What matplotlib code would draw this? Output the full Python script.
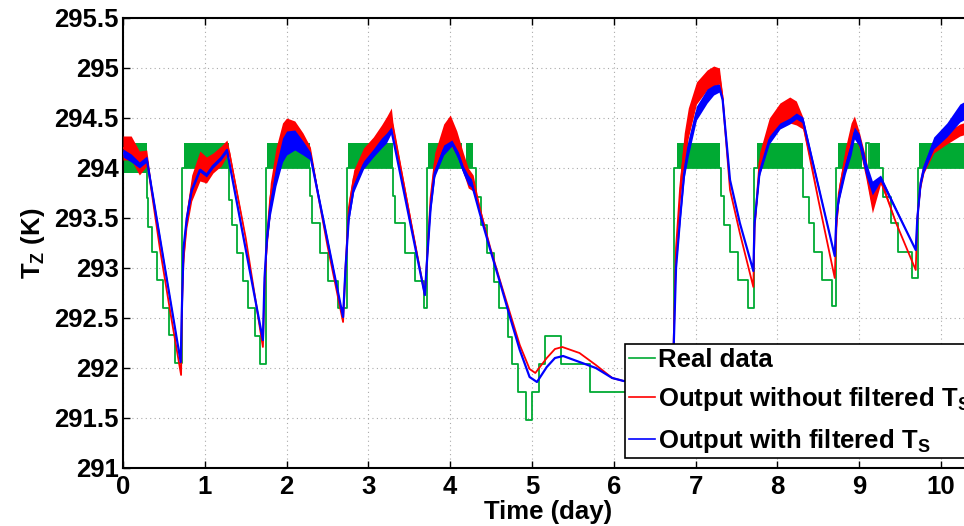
import matplotlib
matplotlib.use("Agg")
import matplotlib.pyplot as plt
import numpy as np

plt.rcParams['font.family'] = ['Liberation Sans', 'DejaVu Sans']
plt.rcParams['font.weight'] = 'bold'
plt.rcParams['mathtext.fontset'] = 'custom'
plt.rcParams['mathtext.rm'] = 'Liberation Sans:bold'
plt.rcParams['mathtext.it'] = 'Liberation Sans:bold'
plt.rcParams['mathtext.bf'] = 'Liberation Sans:bold'

# real data (step signal)
green_t = [0.00, 0.29, 0.31, 0.35, 0.41, 0.485, 0.566, 0.636, 0.717,
           1.29, 1.33, 1.39, 1.47, 1.53, 1.61, 1.67, 1.745,
           2.29, 2.31, 2.41, 2.51, 2.63, 2.735,
           3.30, 3.33, 3.45, 3.57, 3.68, 3.71,
           4.32, 4.37, 4.45, 4.53, 4.60, 4.71, 4.75, 4.83, 4.93, 5.00, 5.08, 5.16, 5.36, 5.71, 6.73,
           7.31, 7.35, 7.42, 7.52, 7.64, 7.715,
           8.31, 8.39, 8.45, 8.55, 8.67, 8.715,
           9.08, 9.12, 9.29, 9.39, 9.47, 9.64, 9.715, 10.39]
green_v = [294.0, 293.7, 293.41, 293.16, 292.88, 292.6, 292.33, 292.05, 294.0,
           293.68, 293.43, 293.15, 292.87, 292.6, 292.32, 292.04, 294.0,
           293.72, 293.45, 293.15, 292.87, 292.6, 294.0,
           293.72, 293.45, 293.15, 292.87, 292.6, 294.0,
           293.71, 293.43, 293.15, 292.86, 292.6, 292.31, 292.04, 291.76, 291.48, 291.76, 292.04, 292.32, 292.04, 291.76, 294.0,
           293.72, 293.43, 293.16, 292.88, 292.6, 294.0,
           293.71, 293.45, 293.16, 292.88, 292.62, 294.0,
           294.25, 294.0, 293.71, 293.45, 293.16, 292.9, 294.0, 294.0]

# periods where the real data chatters between two levels
band_start = [0.00, 0.75, 1.76, 2.75, 3.73, 4.19, 6.77, 7.75, 8.74, 9.13, 9.73]
band_end = [0.29, 1.29, 2.29, 3.30, 4.14, 4.28, 7.30, 8.31, 9.03, 9.25, 10.39]
band_lo = [293.95, 294.0, 294.0, 294.0, 294.0, 294.0, 294.0, 294.0, 294.0, 294.0, 294.0]
band_hi = [294.25, 294.25, 294.25, 294.25, 294.25, 294.25, 294.25, 294.25, 294.25, 294.25, 294.25]

# output without filtered Ts (centre + noise half width)
red_t = [0.00, 0.10, 0.20, 0.29, 0.45, 0.58, 0.71,
         0.72, 0.74, 0.78, 0.84, 0.94, 1.02, 1.10, 1.20, 1.27, 1.30, 1.50, 1.71,
         1.73, 1.76, 1.80, 1.87, 1.95, 2.00, 2.10, 2.20, 2.29, 2.50, 2.69,
         2.72, 2.76, 2.82, 2.94, 3.06, 3.16, 3.22, 3.28, 3.30, 3.69,
         3.71, 3.76, 3.81, 3.92, 4.00, 4.08, 4.16, 4.22, 4.28, 4.36,
         4.49, 4.61, 4.73, 4.85, 4.97, 5.04, 5.18, 5.28, 5.37, 5.58, 5.78, 5.98, 6.12, 6.70,
         6.72, 6.76, 6.81, 6.86, 6.91, 7.01, 7.14, 7.22, 7.29, 7.33, 7.42, 7.54, 7.705,
         7.72, 7.78, 7.90, 8.03, 8.15, 8.23, 8.31, 8.50, 8.70,
         8.72, 8.75, 8.83, 8.90, 8.94, 9.00, 9.08, 9.16, 9.26, 9.45, 9.69,
         9.71, 9.75, 9.79, 9.91, 10.07, 10.23, 10.39]
red_v = [294.2, 294.2, 294.05, 294.1, 293.2, 292.55, 291.93,
         292.6, 293.1, 293.5, 293.8, 294.02, 293.98, 294.05, 294.12, 294.2, 294.15, 293.3, 292.21,
         292.8, 293.3, 293.7, 294.05, 294.3, 294.35, 294.35, 294.25, 294.15, 293.22, 292.46,
         293.0, 293.6, 293.9, 294.12, 294.23, 294.35, 294.42, 294.5, 294.4, 292.73,
         293.0, 293.7, 294.05, 294.32, 294.38, 294.25, 294.05, 293.9, 293.85, 293.6,
         293.2, 292.87, 292.55, 292.23, 291.99, 291.95, 292.1, 292.19, 292.21, 292.15, 292.03, 291.9, 291.87, 291.87,
         291.9, 293.2, 293.8, 294.2, 294.45, 294.75, 294.88, 294.92, 294.92, 294.7, 293.78, 293.35, 292.81,
         293.4, 294.05, 294.38, 294.53, 294.58, 294.55, 294.45, 293.68, 292.9,
         293.4, 293.75, 294.1, 294.35, 294.42, 294.28, 294.0, 293.65, 293.88, 293.45, 292.98,
         293.5, 293.85, 294.0, 294.2, 294.3, 294.38, 294.42]
red_hw = [0.12, 0.12, 0.12, 0.08, 0.0, 0.0, 0.0,
          0.0, 0.05, 0.1, 0.13, 0.15, 0.13, 0.1, 0.1, 0.08, 0.03, 0.0, 0.0,
          0.0, 0.1, 0.15, 0.15, 0.15, 0.15, 0.12, 0.1, 0.06, 0.0, 0.0,
          0.0, 0.08, 0.08, 0.08, 0.08, 0.08, 0.09, 0.1, 0.05, 0.0,
          0.0, 0.08, 0.1, 0.12, 0.15, 0.12, 0.1, 0.1, 0.08, 0.02,
          0.0, 0.0, 0.0, 0.0, 0.0, 0.0, 0.0, 0.0, 0.0, 0.0, 0.0, 0.0, 0.0, 0.0,
          0.0, 0.05, 0.12, 0.15, 0.15, 0.11, 0.1, 0.1, 0.08, 0.03, 0.0, 0.0, 0.0,
          0.0, 0.1, 0.12, 0.12, 0.13, 0.12, 0.06, 0.0, 0.0,
          0.0, 0.08, 0.1, 0.1, 0.1, 0.08, 0.1, 0.1, 0.04, 0.0, 0.0,
          0.0, 0.05, 0.05, 0.05, 0.06, 0.06, 0.06]

# output with filtered Ts (centre + noise half width)
blue_t = [0.00, 0.10, 0.20, 0.29, 0.705,
          0.72, 0.74, 0.78, 0.84, 0.94, 1.02, 1.10, 1.20, 1.27, 1.71,
          1.73, 1.76, 1.80, 1.87, 1.95, 2.00, 2.10, 2.20, 2.29, 2.69,
          2.72, 2.76, 2.82, 2.94, 3.06, 3.16, 3.22, 3.28, 3.69,
          3.71, 3.76, 3.81, 3.92, 4.02, 4.10, 4.16, 4.22, 4.26,
          4.36, 4.49, 4.61, 4.73, 4.85, 4.97, 5.06, 5.18, 5.28, 5.38, 5.58, 5.78, 5.98, 6.12, 6.40, 6.70,
          6.72, 6.76, 6.81, 6.86, 6.91, 7.01, 7.14, 7.22, 7.29, 7.33, 7.42, 7.54, 7.705,
          7.72, 7.78, 7.90, 8.03, 8.15, 8.23, 8.31, 8.70,
          8.72, 8.75, 8.83, 8.90, 8.94, 9.00, 9.08, 9.16, 9.26, 9.69,
          9.71, 9.75, 9.79, 9.91, 10.07, 10.23, 10.39]
blue_v = [294.15, 294.1, 294.03, 294.09, 292.06,
          292.6, 293.2, 293.5, 293.78, 293.98, 293.93, 294.02, 294.1, 294.18, 292.28,
          292.9, 293.3, 293.6, 293.92, 294.18, 294.25, 294.28, 294.2, 294.12, 292.51,
          293.0, 293.5, 293.8, 294.03, 294.15, 294.25, 294.3, 294.38, 292.73,
          293.0, 293.6, 293.95, 294.18, 294.25, 294.12, 293.98, 293.88, 293.85,
          293.55, 293.18, 292.85, 292.51, 292.18, 291.91, 291.86, 292.01, 292.1, 292.12, 292.06, 292.0, 291.9, 291.87, 291.87, 291.87,
          291.9, 293.0, 293.5, 293.95, 294.2, 294.55, 294.72, 294.78, 294.8, 294.68, 293.88, 293.45, 292.97,
          293.45, 293.95, 294.28, 294.42, 294.47, 294.52, 294.48, 293.12,
          293.5, 293.7, 294.0, 294.2, 294.35, 294.28, 294.0, 293.8, 293.9, 293.18,
          293.5, 293.85, 294.0, 294.25, 294.38, 294.55, 294.62]
blue_hw = [0.04, 0.04, 0.03, 0.03, 0.0,
           0.0, 0.01, 0.02, 0.02, 0.02, 0.02, 0.02, 0.02, 0.02, 0.0,
           0.0, 0.05, 0.08, 0.1, 0.12, 0.12, 0.1, 0.07, 0.04, 0.0,
           0.0, 0.03, 0.04, 0.04, 0.04, 0.05, 0.05, 0.03, 0.0,
           0.0, 0.03, 0.04, 0.05, 0.03, 0.04, 0.04, 0.05, 0.04,
           0.0, 0.0, 0.0, 0.0, 0.0, 0.0, 0.0, 0.0, 0.0, 0.0, 0.0, 0.0, 0.0, 0.0, 0.0, 0.0,
           0.0, 0.0, 0.03, 0.05, 0.08, 0.07, 0.07, 0.05, 0.04, 0.02, 0.0, 0.0, 0.0,
           0.0, 0.03, 0.04, 0.03, 0.03, 0.03, 0.03, 0.0,
           0.0, 0.04, 0.06, 0.07, 0.06, 0.06, 0.07, 0.07, 0.03, 0.0,
           0.0, 0.03, 0.04, 0.06, 0.07, 0.09, 0.09]

y_ticks = [291, 291.5, 292, 292.5, 293, 293.5, 294, 294.5, 295, 295.5]
y_ticklabels = ['291', '291.5', '292', '292.5', '293', '293.5', '294', '294.5', '295', '295.5']
x_ticks = [0, 1, 2, 3, 4, 5, 6, 7, 8, 9, 10]

c_green = '#00aa33'
c_red = '#ff0000'
c_blue = '#0000ff'
fs = 18.5

fig = plt.figure(figsize=(9.64, 5.26), dpi=100)
ax = fig.add_axes([123 / 964, 58 / 526, 850 / 964, 450 / 526])

# real data
for s, e, lo, hi in zip(band_start, band_end, band_lo, band_hi):
    ax.fill_between([s, e], [lo, lo], [hi, hi], color=c_green, linewidth=0, zorder=2)
l1, = ax.step(green_t, green_v, where='post', color=c_green, lw=1.3, zorder=2)

# without filter
rt, rv, rh = np.array(red_t), np.array(red_v), np.array(red_hw)
ax.fill_between(rt, rv - rh, rv + rh, color=c_red, linewidth=0, zorder=3)
l2, = ax.plot(rt, rv, color=c_red, lw=1.3, zorder=3)

# with filter
bt, bv, bh = np.array(blue_t), np.array(blue_v), np.array(blue_hw)
ax.fill_between(bt, bv - bh, bv + bh, color=c_blue, linewidth=0, zorder=4)
l3, = ax.plot(bt, bv, color=c_blue, lw=1.6, zorder=4)

ax.set_xlim(0, 10.39)
ax.set_ylim(291, 295.5)
ax.set_xticks(x_ticks)
ax.set_yticks(y_ticks)
ax.set_yticklabels(y_ticklabels)
ax.grid(True, linestyle=(0, (1, 3)), color='#aaaaaa', linewidth=0.8)
ax.tick_params(direction='in', length=5, width=1, top=True, right=True, labelsize=fs)
ax.tick_params(axis='x', pad=5)
ax.tick_params(axis='y', pad=3)
for sp in ax.spines.values():
    sp.set_linewidth(1.5)

ax.set_xlabel('Time (day)', fontsize=fs, fontweight='bold', labelpad=1)
ax.set_ylabel('T$_Z$ (K)', fontsize=fs, fontweight='bold', labelpad=5)

leg = ax.legend([l1, l2, l3],
                ['Real data', 'Output without filtered T$_S$', 'Output with filtered T$_S$'],
                loc='upper left', bbox_to_anchor=(625 / 964, 182 / 526),
                bbox_transform=fig.transFigure, fontsize=fs, frameon=True,
                fancybox=False, framealpha=1, edgecolor='black',
                handlelength=1.0, handletextpad=0.15, borderpad=0.15,
                labelspacing=0.52, borderaxespad=0)
leg.get_frame().set_linewidth(1.2)
for h in leg.get_lines():
    h.set_linewidth(1.2)

fig.savefig('out.png', dpi=100)
